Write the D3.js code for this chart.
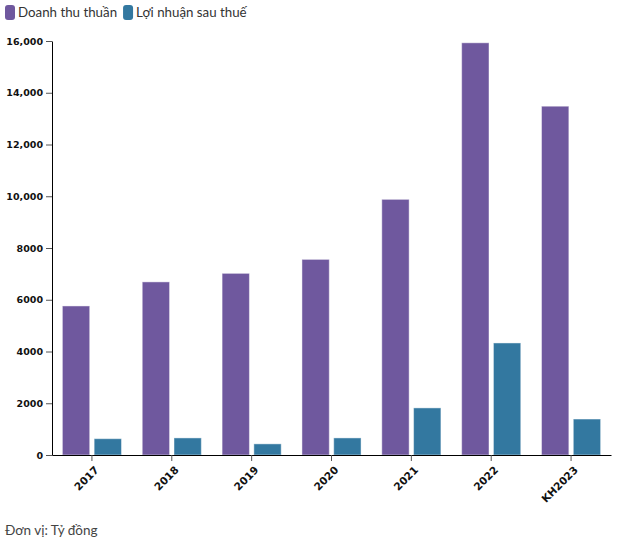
<!DOCTYPE html>
<html>
<head>
<meta charset="utf-8">
<script src="https://cdn.jsdelivr.net/npm/d3@7"></script>
<style>
  body { margin: 0; background: #fff; }
  svg { display: block; }
</style>
</head>
<body>
<svg id="chart" width="618" height="543"></svg>
<script>
const categories = ["2017", "2018", "2019", "2020", "2021", "2022", "KH2023"];
const seriesNames = ["Doanh thu thuần", "Lợi nhuận sau thuế"];
const revenue = [5760, 6690, 7020, 7560, 9880, 15930, 13480];
const profit = [630, 660, 430, 660, 1820, 4330, 1390];
const yTicks = [0, 2000, 4000, 6000, 8000, 10000, 12000, 14000, 16000];
const unitNote = "Đơn vị: Tỷ đồng";
const colors = ["#6f589e", "#3378a0"];

(function () {
const svg = d3.select("#chart");
const mLeft = 52, mRight = 611, mTop = 41, mBottom = 455;

const x0 = d3.scaleBand().domain(categories).range([mLeft, mRight])
  .paddingInner(0.26).paddingOuter(0.13);
const x1 = d3.scaleBand().domain(seriesNames).range([0, x0.bandwidth()])
  .paddingInner(0.14);
const y = d3.scaleLinear().domain([0, 16000]).range([mBottom, mTop]);

const rows = categories.map((c, i) => ({ cat: c, vals: [revenue[i], profit[i]] }));

const g = svg.append("g");
const groups = g.selectAll("g.grp").data(rows).join("g")
  .attr("transform", d => `translate(${x0(d.cat)},0)`);
groups.selectAll("rect").data(d => d.vals.map((v, j) => ({ key: seriesNames[j], v, j })))
  .join("rect")
  .attr("x", d => x1(d.key))
  .attr("width", x1.bandwidth())
  .attr("y", d => y(d.v))
  .attr("height", d => y(0) - y(d.v))
  .attr("fill", d => colors[d.j])
  .attr("stroke", "#fff")
  .attr("stroke-opacity", 0.45)
  .attr("stroke-width", 1);

// Y axis
const yAxis = svg.append("g")
  .attr("transform", `translate(${mLeft},0)`)
  .call(d3.axisLeft(y).tickValues(yTicks).tickSize(6).tickSizeOuter(0)
    .tickFormat(d => d >= 10000 ? d3.format(",")(d) : String(d)));
yAxis.selectAll("text")
  .attr("font-family", "DejaVu Sans, Verdana, sans-serif")
  .attr("font-size", "9.5px").attr("font-weight", "bold").attr("fill", "#111");
yAxis.select(".domain").attr("stroke", "#000");
yAxis.selectAll(".tick line").attr("stroke", "#555");

// X axis
const xAxis = svg.append("g")
  .attr("transform", `translate(0,${mBottom})`)
  .call(d3.axisBottom(x0).tickSize(6).tickSizeOuter(0));
xAxis.select(".domain").attr("stroke", "#000");
xAxis.selectAll(".tick line").attr("stroke", "#555");
xAxis.selectAll("text")
  .attr("font-family", "DejaVu Sans, Verdana, sans-serif")
  .attr("font-size", "10.5px").attr("font-weight", "bold").attr("fill", "#111")
  .attr("text-anchor", "end")
  .attr("x", 0).attr("y", 0)
  .attr("dx", 0).attr("dy", "0.35em")
  .attr("transform", "translate(5,13) rotate(-45)");

// Legend
const legend = svg.append("g");
let lx = 5;
seriesNames.forEach((name, i) => {
  legend.append("rect").attr("x", lx).attr("y", 5).attr("width", 10).attr("height", 15)
    .attr("rx", 3).attr("fill", colors[i]);
  const t = legend.append("text").attr("x", lx + 13).attr("y", 17)
    .attr("font-family", "Lato, 'Open Sans', sans-serif").attr("font-size", "13.3px")
    .attr("fill", "#333").text(name);
  lx += 13 + t.node().getComputedTextLength() + 6;
});

// Unit note
svg.append("text").attr("x", 5).attr("y", 535)
  .attr("font-family", "Lato, 'Open Sans', sans-serif").attr("font-size", "13.5px")
  .attr("fill", "#444").text(unitNote);
})();
</script>
</body>
</html>
